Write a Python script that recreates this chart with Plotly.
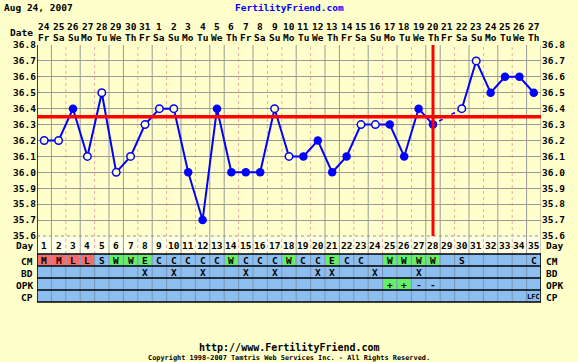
import plotly.graph_objects as go

W, H = 578, 362

# ---------------- data ----------------
days = list(range(1, 36))
dates = ["24", "25", "26", "27", "28", "29", "30", "31", "1", "2", "3", "4", "5", "6", "7",
         "8", "9", "10", "11", "12", "13", "14", "15", "16", "17", "18", "19", "20", "21",
         "22", "23", "24", "25", "26", "27"]
weekdays = ["Fr", "Sa", "Su", "Mo", "Tu", "We", "Th"] * 5
temps = [36.2, 36.2, 36.4, 36.1, 36.5, 36.0, 36.1, 36.3, 36.4, 36.4, 36.0, 35.7, 36.4, 36.0,
         36.0, 36.0, 36.4, 36.1, 36.1, 36.2, 36.0, 36.1, 36.3, 36.3, 36.3, 36.1, 36.4, 36.3,
         None, 36.4, 36.7, 36.5, 36.6, 36.6, 36.5]
open_marker = [1, 1, 0, 1, 1, 1, 1, 1, 1, 1, 0, 0, 0, 0, 0, 0, 1, 1, 0, 0, 0, 0, 1, 1, 0,
               0, 0, 0, 0, 1, 1, 0, 0, 0, 0]
cm = ["M", "M", "L", "L", "S", "W", "W", "E", "C", "C", "C", "C", "C", "W", "C", "C", "C",
      "W", "C", "C", "E", "C", "C", "", "W", "W", "W", "W", "", "S", "", "", "", "", "C"]
bd_days = [8, 10, 12, 15, 17, 20, 21, 24, 27]
opk_days = [25, 26, 27, 28]
opk_vals = ["+", "+", "-", "-"]
cp_days = [35]
cp_vals = ["LFC"]
cover_line = 36.35
ovulation_day = 28
y_ticks = [35.6, 35.7, 35.8, 35.9, 36.0, 36.1, 36.2, 36.3, 36.4, 36.5, 36.6, 36.7, 36.8]
pink_bounds = [2, 4, 7, 9, 11, 14, 16, 17, 19, 22, 24, 26, 29, 31, 33]

# ---------------- layout helpers ----------------
BG = "#FFFFCC"
BLUE = "#0000FF"
FONT = "DejaVu Sans Mono"
PX_L, PX_R = 37, 541
PY_T, PY_B = 45, 236
ROWS = [254, 266, 278, 290, 302]


def py(p):
    return 1 - p / H


def px(p):
    return p / W


fig = go.Figure()

# main solid line (gap on missing day)
fig.add_trace(go.Scatter(x=days, y=temps, mode="lines", connectgaps=False,
                         line=dict(color=BLUE, width=2), hoverinfo="skip", showlegend=False))
# dashed bridge over missing day
valid = [(d, t) for d, t in zip(days, temps) if t is not None]
for i in range(len(valid) - 1):
    if valid[i + 1][0] - valid[i][0] > 1:
        fig.add_trace(go.Scatter(x=[valid[i][0], valid[i + 1][0]], y=[valid[i][1], valid[i + 1][1]],
                                 mode="lines", line=dict(color=BLUE, width=1.5, dash="4px,3px"),
                                 hoverinfo="skip", showlegend=False))
fx = [d for d, t, o in zip(days, temps, open_marker) if t is not None and not o]
fy = [t for d, t, o in zip(days, temps, open_marker) if t is not None and not o]
ox = [d for d, t, o in zip(days, temps, open_marker) if t is not None and o]
oy = [t for d, t, o in zip(days, temps, open_marker) if t is not None and o]
fig.add_trace(go.Scatter(x=fx, y=fy, mode="markers",
                         marker=dict(symbol="circle", size=8.5, color=BLUE, line=dict(width=0)),
                         showlegend=False))
fig.add_trace(go.Scatter(x=ox, y=oy, mode="markers",
                         marker=dict(symbol="circle", size=7.5, color=BG, line=dict(width=1.5, color=BLUE)),
                         showlegend=False))

shapes = []
# Day row background
shapes.append(dict(type="rect", xref="x", yref="paper", x0=0.5, x1=35.5, y0=py(254), y1=py(PY_B),
                   fillcolor="#FFFFE8", line=dict(width=0), layer="below"))
# table rows background
shapes.append(dict(type="rect", xref="x", yref="paper", x0=0.5, x1=35.5, y0=py(ROWS[-1]), y1=py(ROWS[0]),
                   fillcolor="#8CBEF0", line=dict(width=0), layer="below"))
# coloured CM cells
for d, v in zip(days, cm):
    col = None
    if v in ("M", "L"):
        col = "#F86A6A"
    elif v in ("W", "E"):
        col = "#66EE66"
    if col:
        shapes.append(dict(type="rect", xref="x", yref="paper", x0=d - 0.46, x1=d + 0.46,
                           y0=py(ROWS[1] - 1), y1=py(ROWS[0] + 1), fillcolor=col,
                           line=dict(width=0), layer="below"))
for d, v in zip(opk_days, opk_vals):
    if v == "+":
        shapes.append(dict(type="rect", xref="x", yref="paper", x0=d - 0.46, x1=d + 0.46,
                           y0=py(ROWS[3] - 1), y1=py(ROWS[2] + 1), fillcolor="#66EE66",
                           line=dict(width=0), layer="below"))
# vertical grid lines
for k in range(1, 35):
    xb = k + 0.5
    if k in pink_bounds:
        shapes.append(dict(type="line", xref="x", yref="paper", x0=xb, x1=xb, y0=py(ROWS[0]), y1=py(PY_T),
                           line=dict(color="#F0A8A0", width=1, dash="dot"), layer="below"))
    else:
        shapes.append(dict(type="line", xref="x", yref="paper", x0=xb, x1=xb, y0=py(ROWS[0]), y1=py(PY_T),
                           line=dict(color="#999999", width=1), layer="below"))
    shapes.append(dict(type="line", xref="x", yref="paper", x0=xb, x1=xb, y0=py(ROWS[-1]), y1=py(ROWS[0]),
                       line=dict(color="#7A96B4", width=1), layer="below"))
# right edge of plot
shapes.append(dict(type="line", xref="x", yref="paper", x0=35.5, x1=35.5, y0=py(ROWS[0]), y1=py(PY_T),
                   line=dict(color="#999999", width=1), layer="below"))
# bottom of plot / day row separator
shapes.append(dict(type="line", xref="x", yref="paper", x0=0.5, x1=35.5, y0=py(PY_B), y1=py(PY_B),
                   line=dict(color="#8A9A80", width=1, dash="dot")))
# table row lines
for r in ROWS:
    shapes.append(dict(type="line", xref="x", yref="paper", x0=0.5, x1=35.5, y0=py(r), y1=py(r),
                       line=dict(color="black", width=1.5)))
# borders
shapes.append(dict(type="line", xref="x", yref="paper", x0=0.5, x1=0.5, y0=py(ROWS[-1]), y1=py(PY_T),
                   line=dict(color="black", width=1.5)))
shapes.append(dict(type="line", xref="x", yref="paper", x0=35.5, x1=35.5, y0=py(ROWS[-1]), y1=py(ROWS[0]),
                   line=dict(color="black", width=1.5)))
# cover line and ovulation line
shapes.append(dict(type="line", xref="x", yref="y", x0=0.5, x1=35.5, y0=cover_line, y1=cover_line,
                   line=dict(color="#FF0000", width=3.5)))
shapes.append(dict(type="line", xref="x", yref="y", x0=ovulation_day, x1=ovulation_day,
                   y0=y_ticks[0], y1=y_ticks[-1], line=dict(color="#FF0000", width=3)))

annotations = []


def ann(x, y, text, xref="paper", xanchor="center", size=9.5, color="black"):
    annotations.append(dict(x=x, y=y, xref=xref, yref="paper", text=text, showarrow=False,
                            xanchor=xanchor, yanchor="middle",
                            font=dict(family=FONT, size=size, color=color, weight="bold")))


ann(px(2), py(8), "Aug 24, 2007", xanchor="left")
ann(px(289), py(8), "FertilityFriend.com", color=BLUE)
ann(px(35), py(32), "Date", xanchor="right")
for d, dt, wd in zip(days, dates, weekdays):
    ann(d, py(26), dt, xref="x")
    ann(d, py(38), wd, xref="x")
    ann(d, py(245.5), str(d), xref="x")
for lbl, yy in [("Day", 245.5), ("CM", 261), ("BD", 273), ("OPK", 285), ("CP", 297)]:
    ann(px(35), py(yy), lbl, xanchor="right")
    ann(px(544), py(yy), lbl, xanchor="left")
for d, v in zip(days, cm):
    if v:
        ann(d, py(260.5), v, xref="x")
for d in bd_days:
    ann(d, py(272.5), "X", xref="x")
for d, v in zip(opk_days, opk_vals):
    ann(d, py(284.5), v, xref="x")
for d, v in zip(cp_days, cp_vals):
    ann(d, py(296.5), v, xref="x", size=7)
ann(px(289), py(347), "http://www.FertilityFriend.com", size=10)
ann(px(289), py(357.5), "Copyright 1998-2007 Tamtris Web Services Inc. - All Rights Reserved.", size=6.9)

tick_text = ["%.1f" % v for v in y_ticks]
yfont = dict(family=FONT, size=9.5, color="black", weight="bold")

fig.update_layout(
    width=W, height=H, autosize=False,
    margin=dict(l=0, r=0, t=0, b=0),
    paper_bgcolor=BG, plot_bgcolor=BG,
    showlegend=False,
    shapes=shapes, annotations=annotations,
    xaxis=dict(domain=[px(PX_L), px(PX_R)], range=[0.5, 35.5], showgrid=False, zeroline=False,
               showticklabels=False, ticks="", fixedrange=True),
    yaxis=dict(domain=[py(PY_B), py(PY_T)], range=[y_ticks[0], y_ticks[-1]], tickvals=y_ticks,
               ticktext=tick_text, showgrid=True, gridcolor="#999999", gridwidth=1, zeroline=False,
               ticks="", tickfont=yfont, ticklabelstandoff=0, automargin=False, fixedrange=True),
    yaxis2=dict(overlaying="y", side="right", anchor="x", range=[y_ticks[0], y_ticks[-1]],
                tickvals=y_ticks, ticktext=tick_text, showgrid=False, zeroline=False, ticks="",
                tickfont=yfont, ticklabelstandoff=0, automargin=False, fixedrange=True),
)
# invisible trace to render the right axis
fig.add_trace(go.Scatter(x=[1], y=[36.0], yaxis="y2", mode="markers", marker=dict(opacity=0),
                         hoverinfo="skip", showlegend=False))

fig.write_html("out.html", config={"displayModeBar": False},
               post_script="document.body.style.margin='0';document.body.style.background='%s';" % BG)
